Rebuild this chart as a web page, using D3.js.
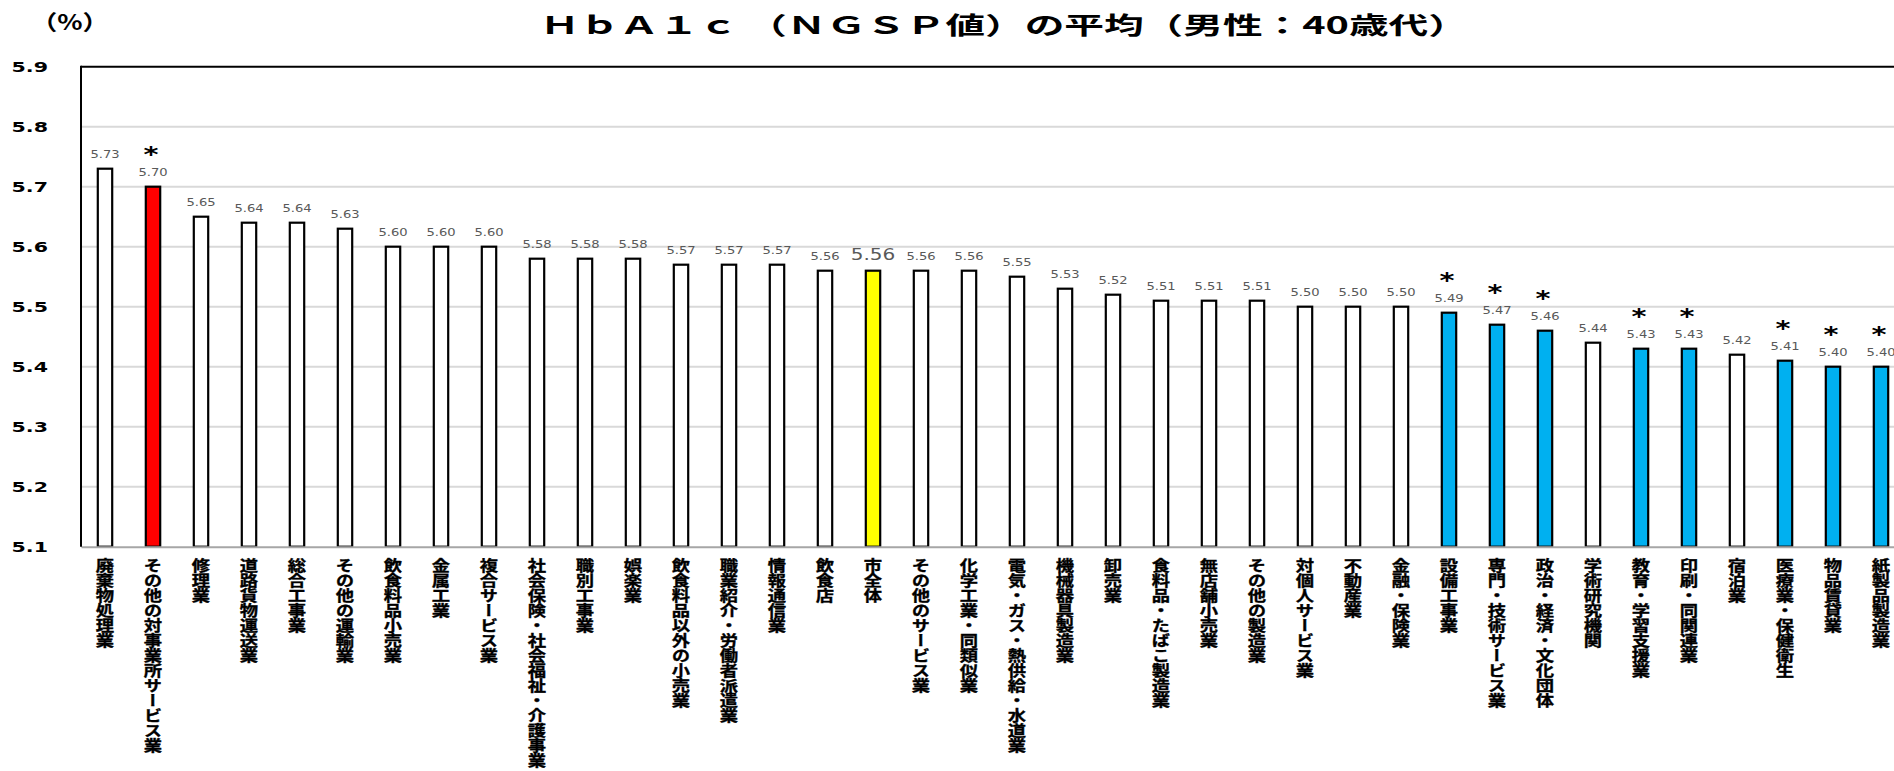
<!DOCTYPE html>
<html><head><meta charset="utf-8">
<script src="https://cdn.jsdelivr.net/npm/d3@7"></script>
<style>
html,body{margin:0;padding:0;background:#fff;overflow:hidden;}
svg{display:block;}
</style></head>
<body>
<svg id="chart" width="1894" height="771"></svg>
<script>
const categories = ["廃棄物処理業","その他の対事業所サービス業","修理業","道路貨物運送業","総合工事業","その他の運輸業","飲食料品小売業","金属工業","複合サービス業","社会保険・社会福祉・介護事業","職別工事業","娯楽業","飲食料品以外の小売業","職業紹介・労働者派遣業","情報通信業","飲食店","市全体","その他のサービス業","化学工業・同類似業","電気・ガス・熱供給・水道業","機械器具製造業","卸売業","食料品・たばこ製造業","無店舗小売業","その他の製造業","対個人サービス業","不動産業","金融・保険業","設備工事業","専門・技術サービス業","政治・経済・文化団体","学術研究機関","教育・学習支援業","印刷・同関連業","宿泊業","医療業・保健衛生","物品賃貸業","紙製品製造業"];
const values = [5.73,5.70,5.65,5.64,5.64,5.63,5.60,5.60,5.60,5.58,5.58,5.58,5.57,5.57,5.57,5.56,5.56,5.56,5.56,5.55,5.53,5.52,5.51,5.51,5.51,5.50,5.50,5.50,5.49,5.47,5.46,5.44,5.43,5.43,5.42,5.41,5.40,5.40];
// comparison with city total: "high" = significantly higher, "low" = significantly lower, "city" = city total, "" = no significant difference
const groups = ["","high","","","","","","","","","","","","","","","city","","","","","","","","","","","","low","low","low","","low","low","","low","low","low"];
const yTicks = [5.1,5.2,5.3,5.4,5.5,5.6,5.7,5.8,5.9];
const titleText = "ＨｂＡ１ｃ （ＮＧＳＰ値）の平均（男性：40歳代）";
const unitText = "（%）";

(function () {
const svg = d3.select("#chart");
const pLeft = 81, pRight = 1905, pTop = 66.7, pBottom = 546.7;
const fillOf = g => g === "high" ? "#ff0000" : g === "low" ? "#00b0f0" : g === "city" ? "#ffff00" : "#ffffff";

const x = d3.scaleBand().domain(categories).range([pLeft, pRight]).paddingInner(0.70).paddingOuter(0.35);
const y = d3.scaleLinear().domain([5.1, 5.9]).range([pBottom, pTop]);

// gridlines
svg.append("g").selectAll("line").data(yTicks.slice(1, -1)).join("line")
  .attr("x1", pLeft).attr("x2", pRight)
  .attr("y1", d => y(d)).attr("y2", d => y(d))
  .attr("stroke", "#d9d9d9").attr("stroke-width", 2);

// bars
const data = categories.map((c, i) => ({c, v: values[i], g: groups[i]}));
svg.append("g").selectAll("rect").data(data).join("rect")
  .attr("x", d => x(d.c)).attr("width", x.bandwidth())
  .attr("y", d => y(d.v)).attr("height", d => y(5.1) - y(d.v))
  .attr("fill", d => fillOf(d.g)).attr("stroke", "#000").attr("stroke-width", 2.2);

// value labels
svg.append("g").selectAll("text").data(data).join("text")
  .attr("transform", d => `translate(${x(d.c) + x.bandwidth()/2},${y(d.v) - 11}) scale(1.25,1)`)
  .attr("text-anchor", "middle")
  .attr("font-family", "'DejaVu Sans', sans-serif")
  .attr("font-size", d => d.g === "city" ? 16 : 10.5)
  .attr("fill", "#595959")
  .text(d => d.v.toFixed(2));

// significance asterisks
svg.append("g").selectAll("text").data(data.filter(d => d.g === "high" || d.g === "low")).join("text")
  .attr("transform", d => `translate(${x(d.c) + x.bandwidth()/2 - 2},${y(d.v) - 25}) scale(1.3,1)`)
  .attr("text-anchor", "middle")
  .attr("font-family", "'DejaVu Sans', sans-serif")
  .attr("font-weight", "bold")
  .attr("font-size", 22)
  .attr("fill", "#000")
  .text("*");

// x axis
const xAxis = svg.append("g").attr("transform", `translate(0,${pBottom})`)
  .call(d3.axisBottom(x).tickSize(0).tickSizeOuter(0));
xAxis.select(".domain").attr("stroke", "#a6a6a6").attr("stroke-width", 2);
xAxis.selectAll(".tick text")
  .attr("y", 11).attr("dy", null).attr("x", 0)
  .attr("transform", "scale(1.22,1)")
  .style("writing-mode", "vertical-rl")
  .attr("text-anchor", "start")
  .attr("font-family", "'Noto Sans CJK JP', sans-serif")
  .attr("font-weight", "bold")
  .attr("font-size", 15)
  .attr("fill", "#000")
  .attr("stroke", "#000").attr("stroke-width", 0.35);

// plot frame (top and left)
svg.append("line").attr("x1", pLeft).attr("x2", pRight).attr("y1", pTop).attr("y2", pTop)
  .attr("stroke", "#000").attr("stroke-width", 2);
svg.append("line").attr("x1", pLeft).attr("x2", pLeft).attr("y1", pTop - 1).attr("y2", pBottom)
  .attr("stroke", "#000").attr("stroke-width", 2);

// y axis labels
const yAxis = svg.append("g").attr("transform", "translate(48,0)")
  .call(d3.axisLeft(y).tickValues(yTicks).tickFormat(d3.format(".1f")).tickSize(0));
yAxis.select(".domain").remove();
yAxis.selectAll(".tick text")
  .attr("x", 0).attr("dy", "0.36em")
  .attr("transform", "scale(1.42,1)")
  .attr("text-anchor", "end")
  .attr("font-family", "'DejaVu Sans', sans-serif")
  .attr("font-weight", "bold")
  .attr("font-size", 14.5)
  .attr("fill", "#000");

// unit
svg.append("text").attr("transform", "translate(31,30) scale(1.25,1)")
  .attr("font-family", "'Noto Sans CJK JP', sans-serif").attr("font-weight", "bold")
  .attr("font-size", 21).attr("fill", "#000").text(unitText);

// title
const title = svg.append("text")
  .attr("font-family", "'Noto Sans CJK JP', sans-serif").attr("font-weight", "bold")
  .attr("font-size", 24).attr("fill", "#000").text(titleText);
const tw = title.node().getComputedTextLength();
const tStart = 540, tEnd = 1468;
title.attr("transform", `translate(${tStart},34) scale(${(tEnd - tStart) / tw},1)`);
})();
</script>
</body></html>
